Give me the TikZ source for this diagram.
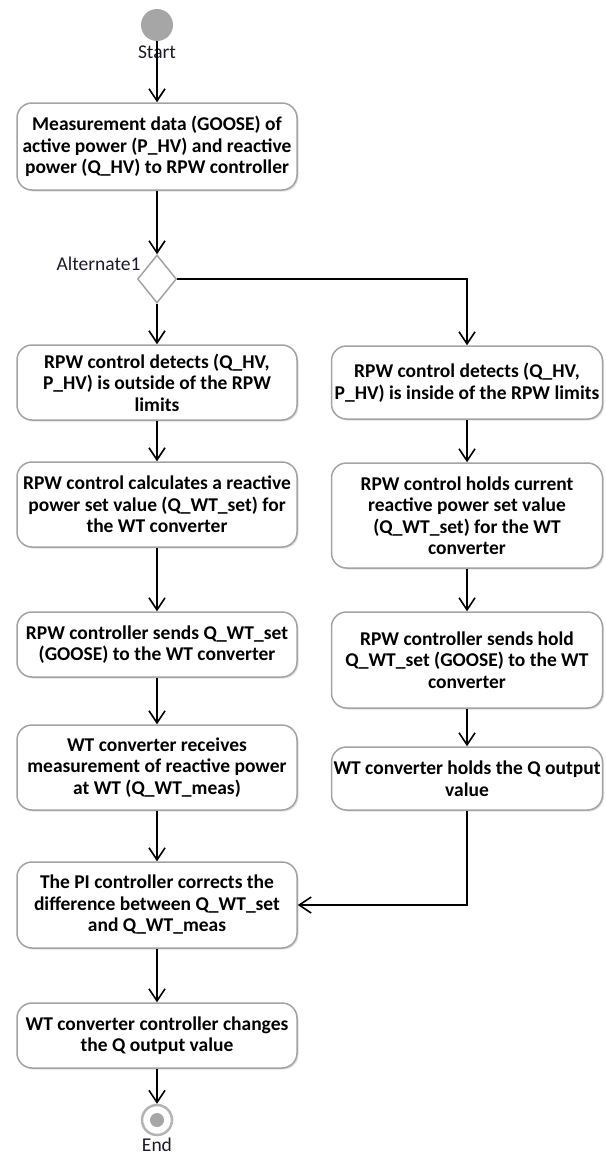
\documentclass[tikz,border=0pt]{standalone}
\usepackage{fontspec}
\setmainfont{Carlito}
\usetikzlibrary{shapes.geometric,arrows.meta,shadows}
\definecolor{boxgray}{HTML}{A3A3A3}
\definecolor{dotgray}{HTML}{A6A6A6}
\definecolor{ringgray}{HTML}{B4B4B4}
\definecolor{labeltext}{HTML}{1A1A2A}

\begin{document}
\begin{tikzpicture}[x=1pt, y=-1pt,
  block/.style={draw=boxgray, line width=1.5pt, rounded corners=15pt, fill=white, align=center,
    font=\bfseries\fontsize{19.5}{21.5}\selectfont, minimum width=280pt, inner sep=1pt,
    drop shadow={opacity=0.25, shadow xshift=1.5pt, shadow yshift=-1.5pt}},
  rblock/.style={block, minimum width=271pt},
  flow/.style={-{Straight Barb[length=12pt, width=16pt, line width=1.6pt]}, line width=1.6pt},
  lbl/.style={font=\fontsize{19.5}{21}\selectfont, text=labeltext}]

  \useasboundingbox (0,0) rectangle (605,1156);

  % Start
  \node[circle, fill=dotgray, minimum size=32pt, inner sep=0pt] (S) at (157,25) {};
  \node[lbl] (J1) at (157,52) {Start};

  \node[block, minimum height=87pt] (M) at (157,146.5) {Measurement data (GOOSE) of\\active power (P\_HV) and reactive\\power (Q\_HV) to RPW controller};

  % Decision
  \node[diamond, draw=boxgray, line width=1.5pt, fill=white, minimum width=39pt, minimum height=48pt, inner sep=0pt] (D) at (157,279) {};
  \node[lbl, anchor=east] (J2) at (144,264) {Alternate1};

  % Left branch
  \node[block, minimum height=75pt] (A1) at (157,382.5) {RPW control detects (Q\_HV,\\P\_HV) is outside of the RPW\\limits};
  \node[block, minimum height=85pt] (A2) at (157,504.5) {RPW control calculates a reactive\\power set value (Q\_WT\_set) for\\the WT converter};
  \node[block, minimum height=65pt] (A3) at (157,644.5) {RPW controller sends Q\_WT\_set\\(GOOSE) to the WT converter};
  \node[block, minimum height=85pt] (A4) at (157,767.5) {WT converter receives\\measurement of reactive power\\at WT (Q\_WT\_meas)};

  % Right branch
  \node[rblock, minimum height=73pt] (B1) at (467,382.5) {RPW control detects (Q\_HV,\\P\_HV) is inside of the RPW limits};
  \node[rblock, minimum height=105pt] (B2) at (467,515.5) {RPW control holds current\\reactive power set value\\(Q\_WT\_set) for the WT\\converter};
  \node[rblock, minimum height=96pt] (B3) at (467,660) {RPW controller sends hold\\Q\_WT\_set (GOOSE) to the WT\\converter};
  \node[rblock, minimum height=63pt] (B4) at (467,778.5) {WT converter holds the Q output\\value};

  % Merge
  \node[block, minimum height=86pt] (C1) at (157,905) {The PI controller corrects the\\difference between Q\_WT\_set\\and Q\_WT\_meas};
  \node[block, minimum height=65pt] (C2) at (157,1035.5) {WT converter controller changes\\the Q output value};

  % End
  \node[circle, draw=ringgray, line width=2.5pt, fill=white, minimum size=30pt, inner sep=0pt] (E) at (157,1120) {};
  \node[circle, fill=dotgray, minimum size=14pt, inner sep=0pt] (E0) at (E) {};
  \node[lbl] (J3) at (157,1145) {End};

  % Arrows
  \draw[flow] (S) -- (M);
  \draw[flow] (M) -- (D);
  \draw[flow] (D) -- (A1);
  \draw[flow] (D.east) -| (B1.north);
  \draw[flow] (A1) -- (A2);
  \draw[flow] (A2) -- (A3);
  \draw[flow] (A3) -- (A4);
  \draw[flow] (A4) -- (C1);
  \draw[flow] (B1) -- (B2);
  \draw[flow] (B2) -- (B3);
  \draw[flow] (B3) -- (B4);
  \draw[flow] (B4.south) |- (C1.east);
  \draw[flow] (C1) -- (C2);
  \draw[flow] (C2) -- (E);

\end{tikzpicture}
\end{document}
